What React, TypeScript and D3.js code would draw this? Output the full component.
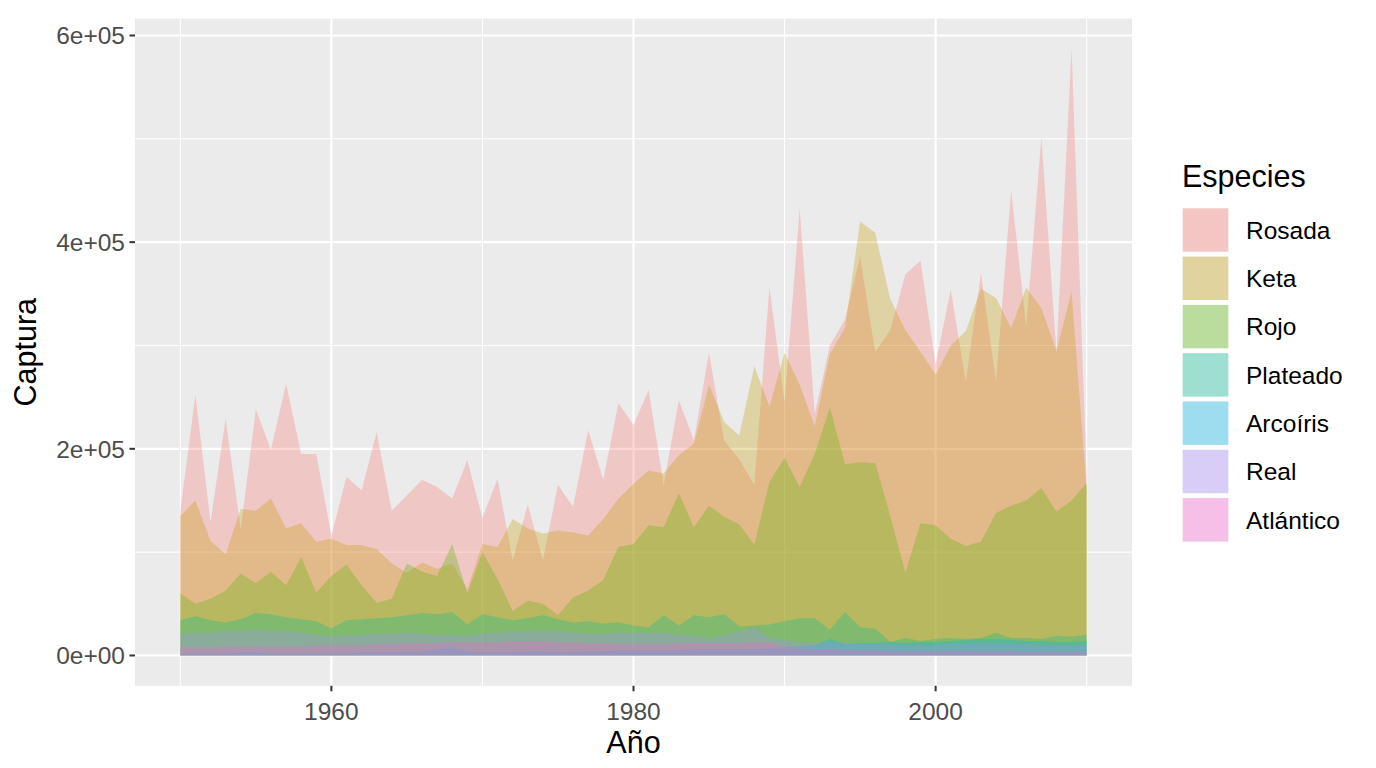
import * as d3 from "d3";

const SPECIES = ["Rosada", "Keta", "Rojo", "Plateado", "Arcoíris", "Real", "Atlántico"];
const COLORS = ["#F8766D", "#C49A00", "#53B400", "#00C094", "#00B6EB", "#A58AFF", "#FB61D7"];

const YEARS = d3.range(1950, 2011);

// captura en miles, 1950..2010
const ROSADA = [
	140, 252, 129, 229, 122, 238, 199, 263, 195, 195,
	116, 173, 160, 216, 140, 155, 170, 163, 152, 189,
	133, 171, 92, 146, 92, 165, 144, 218, 170, 244,
	223, 257, 165, 247, 208, 293, 208, 190, 165, 356,
	245, 432, 234, 300, 325, 386, 294, 315, 369, 382,
	282, 354, 265, 370, 265, 450, 318, 501, 293, 587,
	172,
];
const KETA = [
	135, 150, 111, 98, 142, 140, 152, 123, 128, 110,
	113, 107, 107, 103, 89, 80, 90, 84, 89, 64,
	108, 105, 132, 123, 118, 121, 119, 116, 132, 152,
	166, 179, 176, 194, 205, 262, 226, 213, 280, 241,
	293, 262, 222, 292, 317, 420, 409, 345, 315, 294,
	272, 300, 314, 355, 346, 317, 356, 336, 295, 352,
	160,
];
const ROJO = [
	60, 50, 55, 63, 79, 70, 81, 68, 95, 61,
	77, 88, 68, 51, 55, 89, 81, 77, 108, 60,
	100, 74, 43, 53, 50, 39, 56, 63, 73, 105,
	108, 126, 124, 157, 124, 145, 134, 127, 107, 168,
	191, 163, 195, 240, 185, 187, 186, 135, 80, 128,
	126, 113, 106, 110, 138, 145, 150, 162, 139, 150,
	167,
];
const PLATEADO = [
	34, 38, 34, 32, 35, 41, 40, 37, 35, 33,
	26, 34, 35, 36, 37, 39, 41, 40, 42, 30,
	40, 37, 34, 36, 39, 35, 32, 33, 31, 32,
	29, 27, 39, 29, 39, 37, 40, 28, 29, 30,
	33, 36, 36, 25, 42, 27, 26, 13, 17, 14,
	16, 17, 16, 17, 22, 17, 17, 16, 19, 18,
	20,
];
const ARCOIRIS = [
	2, 2, 2, 2, 3, 3, 2, 2, 2, 2,
	2, 2, 3, 3, 3, 3, 4, 6, 8, 4,
	3, 3, 3, 4, 4, 3, 3, 4, 4, 5,
	5, 5, 5, 5, 6, 6, 6, 6, 6, 7,
	8, 9, 10, 16, 11, 12, 12, 13, 12, 13,
	13, 14, 15, 16, 16, 15, 14, 14, 13, 13,
	14,
];
const REAL = [
	21, 22, 22, 23, 24, 25, 24, 23, 22, 20,
	18, 19, 20, 21, 21, 22, 21, 20, 20, 19,
	21, 22, 23, 23, 24, 23, 22, 21, 21, 22,
	22, 22, 22, 20, 19, 17, 19, 23, 27, 17,
	15, 13, 12, 13, 12, 11, 11, 11, 10, 10,
	10, 11, 11, 12, 12, 11, 11, 10, 10, 10,
	10,
];
const ATLANTICO = [
	8, 8, 8, 9, 9, 9, 9, 9, 9, 10,
	10, 10, 10, 11, 11, 12, 12, 12, 13, 13,
	13, 13, 14, 14, 14, 13, 13, 12, 12, 11,
	11, 11, 11, 12, 12, 12, 12, 12, 13, 13,
	9, 7, 6, 6, 5, 5, 5, 4, 4, 4,
	4, 4, 4, 4, 4, 4, 3, 3, 3, 3,
	3,
];

const SERIES = [ROSADA, KETA, ROJO, PLATEADO, ARCOIRIS, REAL, ATLANTICO];

const Y_BREAKS = [0, 200000, 400000, 600000];
const Y_MINOR = [100000, 300000, 500000];
const X_BREAKS = [1960, 1980, 2000];
const X_MINOR = [1950, 1970, 1990, 2010];

const W = 1376;
const H = 768;
const PANEL = { left: 135, right: 1132, top: 18.6, bottom: 685.8 };
const FONT = "'Liberation Sans', Arial, Helvetica, sans-serif";

function sci(v: number) {
	if (v === 0) return "0e+00";
	const e = Math.floor(Math.log10(v));
	const m = Math.round(v / Math.pow(10, e));
	return `${m}e+${String(e).padStart(2, "0")}`;
}

export default function App() {
	const maxV = d3.max(SERIES.flat())! * 1000;
	const [x0, x1] = d3.extent(YEARS) as [number, number];
	const xPad = (x1 - x0) * 0.05;

	const x = d3.scaleLinear().domain([x0 - xPad, x1 + xPad]).range([PANEL.left, PANEL.right]);
	const y = d3
		.scaleLinear()
		.domain([-maxV * 0.05, maxV * 1.05])
		.range([PANEL.bottom, PANEL.top]);

	const area = d3
		.area<number>()
		.x((_, i) => x(YEARS[i]))
		.y0(y(0))
		.y1((v) => y(v * 1000));

	const keyTop = 208.3;
	const keyStep = 48.3;

	return (
		<svg
			width={W}
			height={H}
			style={{ position: "absolute", left: 0, top: 0, background: "#fff" }}
			fontFamily={FONT}
		>
			<rect
				x={PANEL.left}
				y={PANEL.top}
				width={PANEL.right - PANEL.left}
				height={PANEL.bottom - PANEL.top}
				fill="#EBEBEB"
			/>
			{/* minor grid */}
			{Y_MINOR.map((v) => (
				<line key={"ym" + v} x1={PANEL.left} x2={PANEL.right} y1={y(v)} y2={y(v)} stroke="#fff" strokeWidth={1.1} />
			))}
			{X_MINOR.map((v) => (
				<line key={"xm" + v} x1={x(v)} x2={x(v)} y1={PANEL.top} y2={PANEL.bottom} stroke="#fff" strokeWidth={1.1} />
			))}
			{/* major grid */}
			{Y_BREAKS.map((v) => (
				<line key={"yM" + v} x1={PANEL.left} x2={PANEL.right} y1={y(v)} y2={y(v)} stroke="#fff" strokeWidth={2.2} />
			))}
			{X_BREAKS.map((v) => (
				<line key={"xM" + v} x1={x(v)} x2={x(v)} y1={PANEL.top} y2={PANEL.bottom} stroke="#fff" strokeWidth={2.2} />
			))}

			{/* areas, drawn in factor order */}
			{SERIES.map((s, i) => (
				<path key={SPECIES[i]} d={area(s) ?? ""} fill={COLORS[i]} fillOpacity={0.3} />
			))}

			{/* axes */}
			{Y_BREAKS.map((v) => (
				<g key={"yt" + v}>
					<line x1={PANEL.left - 5.5} x2={PANEL.left} y1={y(v)} y2={y(v)} stroke="#333" strokeWidth={2} />
					<text x={PANEL.left - 10} y={y(v)} dy="0.36em" textAnchor="end" fontSize={24.5} fill="#4D4D4D">
						{sci(v)}
					</text>
				</g>
			))}
			{X_BREAKS.map((v) => (
				<g key={"xt" + v}>
					<line x1={x(v)} x2={x(v)} y1={PANEL.bottom} y2={PANEL.bottom + 5.5} stroke="#333" strokeWidth={2} />
					<text x={x(v)} y={PANEL.bottom + 34} textAnchor="middle" fontSize={24.5} fill="#4D4D4D">
						{v}
					</text>
				</g>
			))}

			<text x={(PANEL.left + PANEL.right) / 2} y={753} textAnchor="middle" fontSize={30.5} fill="#000">
				Año
			</text>
			<text
				transform={`translate(36,${(PANEL.top + PANEL.bottom) / 2}) rotate(-90)`}
				textAnchor="middle"
				fontSize={30.5}
				fill="#000"
			>
				Captura
			</text>

			{/* legend */}
			<text x={1182} y={187} fontSize={30.5} fill="#000">
				Especies
			</text>
			{SPECIES.map((name, i) => {
				const ky = keyTop + i * keyStep;
				return (
					<g key={"lg" + name}>
						<rect x={1182.7} y={ky} width={45.6} height={43.4} fill="#F2F2F2" />
						<rect x={1182.7} y={ky} width={45.6} height={43.4} fill={COLORS[i]} fillOpacity={0.35} />
						<text x={1246} y={ky + 21.7} dy="0.36em" fontSize={24.5} fill="#000">
							{name}
						</text>
					</g>
				);
			})}
		</svg>
	);
}
